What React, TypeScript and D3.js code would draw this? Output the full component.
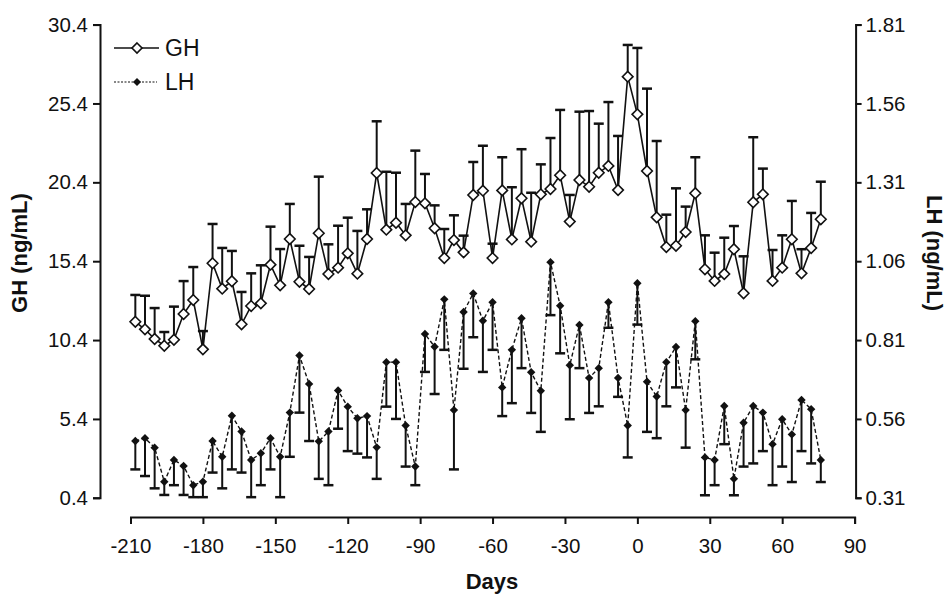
import React, { useEffect, useRef } from 'react'
import * as d3 from 'd3'

// sampling days (relative to day 0)
const days = [
  -208, -204, -200, -196, -192, -188, -184, -180, -176, -172, -168, -164,
  -160, -156, -152, -148, -144, -140, -136, -132, -128, -124, -120, -116,
  -112, -108, -104, -100, -96, -92, -88, -84, -80, -76, -72, -68,
  -64, -60, -56, -52, -48, -44, -40, -36, -32, -28, -24, -20,
  -16, -12, -8, -4, 0, 4, 8, 12, 16, 20, 24, 28,
  32, 36, 40, 44, 48, 52, 56, 60, 64, 68, 72, 76,
]

// GH mean and top of error bar (ng/mL)
const ghMean = [
  11.56, 11.08, 10.47, 10.04, 10.42, 12.05, 12.94, 9.81, 15.27, 13.66, 14.13, 11.4,
  12.56, 12.73, 15.18, 13.87, 16.81, 14.1, 13.64, 17.17, 14.59, 14.99, 15.9, 14.61,
  16.81, 20.99, 17.4, 17.84, 17.04, 19.15, 19.07, 17.49, 15.6, 16.74, 15.96, 19.6,
  19.87, 15.6, 19.89, 16.78, 19.39, 16.64, 19.64, 19.98, 20.85, 17.91, 20.55, 20.12,
  21.01, 21.44, 19.91, 27.1, 24.71, 21.12, 18.18, 16.3, 16.38, 17.25, 19.71, 14.89,
  14.15, 14.59, 16.16, 13.37, 19.14, 19.64, 14.15, 14.99, 16.79, 14.63, 16.24, 18.06,
]
const ghHigh = [
  13.26, 13.21, 12.43, 10.91, 12.52, 14.14, 15.03, 10.97, 17.76, 16.24, 16.05, 13.45,
  14.63, 15.14, 17.59, 16.17, 19.03, 16.38, 15.67, 20.76, 16.47, 17.65, 18.16, 17.32,
  18.69, 24.27, 21.07, 21.01, 19.03, 22.41, 20.93, 18.94, 17.44, 18.31, 17.02, 21.69,
  22.72, 16.51, 21.99, 20.09, 22.5, 19.74, 21.54, 23.21, 24.99, 19.6, 24.88, 24.92,
  24.12, 25.49, 23.34, 29.11, 28.92, 26.34, 23.02, 18.35, 20.02, 18.86, 21.99, 17.04,
  15.94, 16.89, 17.63, 15.71, 23.26, 21.27, 16.11, 17.04, 19.22, 16.16, 18.46, 20.44,
]

// LH mean and bottom of error bar (ng/mL)
const lhMean = [
  0.49, 0.499, 0.469, 0.361, 0.43, 0.411, 0.35, 0.361, 0.49, 0.44, 0.57, 0.52,
  0.43, 0.451, 0.499, 0.44, 0.58, 0.761, 0.671, 0.489, 0.52, 0.65, 0.599, 0.562,
  0.569, 0.47, 0.74, 0.74, 0.539, 0.409, 0.829, 0.789, 0.939, 0.588, 0.899, 0.958,
  0.871, 0.93, 0.66, 0.779, 0.879, 0.708, 0.649, 1.057, 0.919, 0.73, 0.858, 0.69,
  0.721, 0.93, 0.69, 0.539, 0.99, 0.678, 0.631, 0.74, 0.788, 0.588, 0.87, 0.438,
  0.43, 0.601, 0.37, 0.548, 0.601, 0.58, 0.48, 0.559, 0.511, 0.62, 0.591, 0.43,
]
const lhLow = [
  0.4, 0.379, 0.34, 0.319, 0.35, 0.319, 0.312, 0.312, 0.39, 0.34, 0.4, 0.39,
  0.312, 0.35, 0.4, 0.312, 0.44, 0.58, 0.49, 0.37, 0.35, 0.529, 0.458, 0.45,
  0.438, 0.37, 0.599, 0.56, 0.409, 0.35, 0.709, 0.639, 0.779, 0.4, 0.719, 0.819,
  0.709, 0.779, 0.569, 0.61, 0.721, 0.579, 0.519, 0.889, 0.768, 0.559, 0.721, 0.579,
  0.6, 0.849, 0.63, 0.438, 0.859, 0.519, 0.499, 0.6, 0.66, 0.469, 0.749, 0.318,
  0.35, 0.48, 0.318, 0.409, 0.419, 0.458, 0.35, 0.409, 0.36, 0.458, 0.419, 0.36,
]

const ghTicks = [0.4, 5.4, 10.4, 15.4, 20.4, 25.4, 30.4]
const lhTicks = [0.31, 0.56, 0.81, 1.06, 1.31, 1.56, 1.81]
const dayTicks = [-210, -180, -150, -120, -90, -60, -30, 0, 30, 60, 90]

const FONT = "'Liberation Sans', Arial, Helvetica, sans-serif"

const diamond = (r: number) => `M0,${-r}L${r},0L0,${r}L${-r},0Z`

const App = () => {
  const svgRef = useRef(null)

  useEffect(() => {
    const svg = d3.select(svgRef.current)
    svg.selectAll('*').remove()

    const x = d3.scaleLinear().domain([-210, 90]).range([130.5, 854.6])
    const yGH = d3.scaleLinear().domain([0.4, 30.4]).range([497.8, 24.6])
    const yLH = d3.scaleLinear().domain([0.31, 1.81]).range([497.8, 24.6])

    const pts = days.map((d, i) => ({
      day: d, gh: ghMean[i], ghHi: ghHigh[i], lh: lhMean[i], lhLo: lhLow[i],
    }))

    // axes
    const styleAxis = (g) => {
      g.select('.domain').attr('stroke', '#111').attr('stroke-width', 2)
      g.selectAll('.tick line').attr('stroke', '#111').attr('stroke-width', 2)
      g.selectAll('.tick text')
        .attr('fill', '#111')
        .attr('font-family', FONT)
        .attr('font-size', 20.5)
    }

    svg.append('g')
      .attr('transform', 'translate(100,0)')
      .call(d3.axisLeft(yGH).tickValues(ghTicks).tickFormat(d3.format('.1f'))
        .tickSizeOuter(0).tickSize(7).tickPadding(5))
      .call(styleAxis)

    svg.append('g')
      .attr('transform', 'translate(855.6,0)')
      .call(d3.axisRight(yLH).tickValues(lhTicks).tickFormat(d3.format('.2f'))
        .tickSizeOuter(0).tickSize(6).tickPadding(4))
      .call(styleAxis)

    svg.append('g')
      .attr('transform', 'translate(0,517)')
      .call(d3.axisBottom(x).tickValues(dayTicks).tickFormat(d => String(d))
        .tickSizeOuter(0).tickSize(7).tickPadding(14))
      .call(styleAxis)

    // axis titles
    const title = (t, tr) => svg.append('text')
      .attr('transform', tr)
      .attr('text-anchor', 'middle')
      .attr('font-family', FONT)
      .attr('font-weight', 'bold')
      .attr('font-size', 22)
      .attr('fill', '#111')
      .text(t)

    title('GH (ng/mL)', 'translate(27,253) rotate(-90)')
    title('LH (ng/mL)', 'translate(927,253) rotate(90)')
    title('Days', 'translate(492,589)')

    const plot = svg.append('g')

    // LH error bars (downward)
    const lhErr = plot.append('g').attr('stroke', '#111').attr('stroke-width', 2)
    lhErr.selectAll('line.v').data(pts).enter().append('line')
      .attr('x1', d => x(d.day)).attr('x2', d => x(d.day))
      .attr('y1', d => yLH(d.lh)).attr('y2', d => yLH(d.lhLo))
    lhErr.selectAll('line.c').data(pts).enter().append('line')
      .attr('x1', d => x(d.day) - 5).attr('x2', d => x(d.day) + 5)
      .attr('y1', d => yLH(d.lhLo)).attr('y2', d => yLH(d.lhLo))
      .attr('stroke-width', 2.5)

    // GH error bars (upward)
    const ghErr = plot.append('g').attr('stroke', '#111').attr('stroke-width', 2)
    ghErr.selectAll('line.v').data(pts).enter().append('line')
      .attr('x1', d => x(d.day)).attr('x2', d => x(d.day))
      .attr('y1', d => yGH(d.gh)).attr('y2', d => yGH(d.ghHi))
    ghErr.selectAll('line.c').data(pts).enter().append('line')
      .attr('x1', d => x(d.day) - 5).attr('x2', d => x(d.day) + 5)
      .attr('y1', d => yGH(d.ghHi)).attr('y2', d => yGH(d.ghHi))
      .attr('stroke-width', 2.5)

    // lines
    plot.append('path')
      .datum(pts)
      .attr('fill', 'none')
      .attr('stroke', '#111')
      .attr('stroke-width', 1.4)
      .attr('stroke-dasharray', '4,2.5')
      .attr('d', d3.line().x(d => x(d.day)).y(d => yLH(d.lh)))

    plot.append('path')
      .datum(pts)
      .attr('fill', 'none')
      .attr('stroke', '#111')
      .attr('stroke-width', 1.6)
      .attr('d', d3.line().x(d => x(d.day)).y(d => yGH(d.gh)))

    // markers
    plot.append('g').selectAll('path').data(pts).enter().append('path')
      .attr('transform', d => `translate(${x(d.day)},${yLH(d.lh)})`)
      .attr('d', diamond(4.2))
      .attr('fill', '#111')

    plot.append('g').selectAll('path').data(pts).enter().append('path')
      .attr('transform', d => `translate(${x(d.day)},${yGH(d.gh)})`)
      .attr('d', diamond(5.3))
      .attr('fill', '#fff')
      .attr('stroke', '#111')
      .attr('stroke-width', 1.6)

    // legend
    const legend = svg.append('g')
      .attr('font-family', FONT)
      .attr('font-size', 23)
      .attr('fill', '#111')

    legend.append('line')
      .attr('x1', 114).attr('x2', 159).attr('y1', 48).attr('y2', 48)
      .attr('stroke', '#111').attr('stroke-width', 1.6)
    legend.append('path')
      .attr('transform', 'translate(137,48)')
      .attr('d', diamond(5))
      .attr('fill', '#fff').attr('stroke', '#111').attr('stroke-width', 1.6)
    legend.append('text').attr('x', 165).attr('y', 56).text('GH')

    legend.append('line')
      .attr('x1', 114).attr('x2', 157).attr('y1', 82).attr('y2', 82)
      .attr('stroke', '#111').attr('stroke-width', 1.2)
      .attr('stroke-dasharray', '2,1.5')
    legend.append('path')
      .attr('transform', 'translate(137,82)')
      .attr('d', diamond(4))
      .attr('fill', '#111')
    legend.append('text').attr('x', 165).attr('y', 90).text('LH')
  }, [])

  return (
    <svg
      ref={svgRef}
      width={947}
      height={598}
      style={{ position: 'absolute', left: 0, top: 0, background: '#fff' }}
    />
  )
}

export default App
